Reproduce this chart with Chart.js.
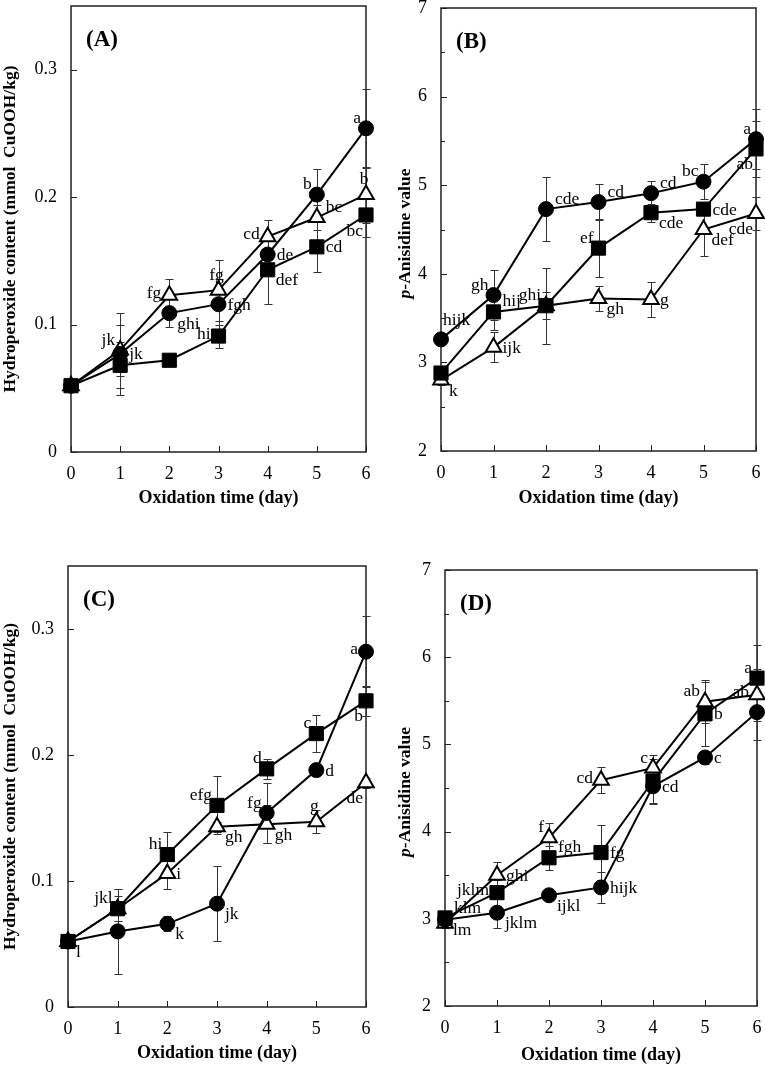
<!DOCTYPE html>
<html>
<head>
<meta charset="utf-8">
<script src="https://cdn.jsdelivr.net/npm/chart.js@4.4.0/dist/chart.umd.min.js"></script>
<style>
  body { margin: 0; background: #fff; width: 765px; height: 1086px; position: relative; overflow: hidden; }
  canvas { position: absolute; }
</style>
</head>
<body>
<canvas id="chartA" width="383" height="560" style="left:0;top:-20px"></canvas>
<canvas id="chartB" width="395" height="560" style="left:383px;top:-20px"></canvas>
<canvas id="chartC" width="383" height="558" style="left:0;top:528px"></canvas>
<canvas id="chartD" width="395" height="558" style="left:383px;top:528px"></canvas>
<script>
var days = [0, 1, 2, 3, 4, 5, 6];

// (A) hydroperoxide
var aCircle = [0.052, 0.077, 0.109, 0.116, 0.155, 0.202, 0.254];
var aCircleSd = [0.002, 0.032, 0.011, 0.020, 0.012, 0.020, 0.031];
var aCircleTags = ['', 'jk', 'ghi', 'fgh', 'de', 'b', 'a'];
var aSquare = [0.052, 0.068, 0.072, 0.091, 0.143, 0.161, 0.186];
var aSquareSd = [0.002, 0.018, 0.003, 0.009, 0.027, 0.020, 0.017];
var aSquareTags = ['', '', '', 'hi', 'def', 'cd', 'bc'];
var aTri = [0.052, 0.080, 0.123, 0.127, 0.169, 0.184, 0.202];
var aTriSd = [0.002, 0.020, 0.013, 0.024, 0.013, 0.010, 0.022];
var aTriTags = ['', 'jk', 'fg', 'fg', 'cd', 'bc', 'b'];

// (B) p-anisidine
var bCircle = [3.26, 3.76, 4.73, 4.81, 4.91, 5.04, 5.52];
var bCircleSd = [0.05, 0.28, 0.36, 0.20, 0.14, 0.20, 0.34];
var bCircleTags = ['hijk', 'gh', 'cde', 'cd', 'cd', 'bc', 'a'];
var bSquare = [2.88, 3.57, 3.64, 4.29, 4.69, 4.73, 5.41];
var bSquareSd = [0.05, 0.20, 0.43, 0.33, 0.10, 0.05, 0.32];
var bSquareTags = ['', 'hij', 'ghi', 'ef', 'cde', 'cde', 'ab'];
var bTri = [2.80, 3.17, 3.64, 3.72, 3.71, 4.50, 4.68];
var bTriSd = [0.05, 0.17, 0.15, 0.14, 0.20, 0.30, 0.19];
var bTriTags = ['k', 'ijk', '', 'gh', 'g', 'def', 'cde'];

// (C) hydroperoxide
var cCircle = [0.052, 0.060, 0.066, 0.082, 0.154, 0.188, 0.282];
var cCircleSd = [0.002, 0.034, 0.006, 0.030, 0.024, 0.004, 0.028];
var cCircleTags = ['l', '', 'k', 'jk', 'fg', 'd', 'a'];
var cSquare = [0.052, 0.078, 0.121, 0.160, 0.189, 0.217, 0.243];
var cSquareSd = [0.002, 0.016, 0.018, 0.023, 0.008, 0.015, 0.012];
var cSquareTags = ['', 'jkl', 'hi', 'efg', 'd', 'c', 'b'];
var cTri = [0.052, 0.078, 0.106, 0.143, 0.145, 0.147, 0.178];
var cTriSd = [0.002, 0.010, 0.012, 0.004, 0.015, 0.009, 0.004];
var cTriTags = ['', '', 'i', 'gh', 'gh', 'g', 'de'];

// (D) p-anisidine
var dCircle = [2.99, 3.07, 3.27, 3.36, 4.52, 4.85, 5.37];
var dCircleSd = [0.05, 0.18, 0.04, 0.18, 0.20, 0.08, 0.32];
var dCircleTags = ['lm', 'jklm', 'ijkl', 'hijk', 'cd', 'c', ''];
var dSquare = [3.01, 3.30, 3.70, 3.76, 4.58, 5.35, 5.76];
var dSquareSd = [0.05, 0.15, 0.14, 0.32, 0.25, 0.37, 0.38];
var dSquareTags = ['klm', 'jklm', 'fgh', 'fg', '', 'b', 'a'];
var dTri = [2.95, 3.50, 3.93, 4.59, 4.73, 5.49, 5.57];
var dTriSd = [0.05, 0.15, 0.17, 0.15, 0.15, 0.25, 0.30];
var dTriTags = ['', 'ghi', 'f', 'cd', 'c', 'ab', 'ab'];

// where each letter sits around its marker
var aCircleAt = ['', 'r', 'dr', 'r', 'r', 'ul', 'ul'];
var aSquareAt = ['', '', '', 'l', 'dr', 'r', 'dl'];
var aTriAt = ['', 'ul', 'l', 'u', 'l', 'ur', 'u'];
var bCircleAt = ['uu', 'ul', 'ur', 'ur', 'ur', 'ul', 'ul'];
var bSquareAt = ['', 'ur', 'ul', 'ul', 'dr', 'r', 'dl'];
var bTriAt = ['dr', 'r', '', 'dr', 'r', 'dr', 'dl'];
var cCircleAt = ['dr', '', 'dr', 'dr', 'ul', 'r', 'l'];
var cSquareAt = ['', 'ul', 'ul', 'ul', 'ul', 'ul', 'dl'];
var cTriAt = ['', '', 'r', 'dr', 'dr', 'u', 'dl'];
var dCircleAt = ['dr', 'dr', 'dr', 'r', 'r', 'r', ''];
var dSquareAt = ['ur', 'l', 'ur', 'r', '', 'r', 'ul'];
var dTriAt = ['', 'r', 'ul', 'l', 'ul', 'ul', 'l'];

var PLACE = {
  r: [9, 1, 'left'], l: [-8, -2, 'right'], ul: [-5, -10, 'right'], ur: [9, -10, 'left'],
  dr: [8, 11, 'left'], dl: [-3, 16, 'right'], u: [-2, -15, 'center'], uu: [2, -19, 'left']
};

var SERIF = '"Liberation Serif", "Times New Roman", serif';
Chart.defaults.font.family = SERIF;
Chart.defaults.color = '#000';

var CIRCLE = { shape: 'circle', r: 7.5, fill: '#000', bw: 1 };
var SQUARE = { shape: 'rect', r: 10, fill: '#000', bw: 1 };
var TRI = { shape: 'triangle', r: 9, fill: '#fff', bw: 2 };

function makeSet(vals, sd, tags, at, st) {
  return {
    data: days.map(function (d, i) { return { x: d, y: vals[i] }; }),
    sd: sd, tags: tags, at: at,
    borderColor: '#000', borderWidth: 2,
    pointStyle: st.shape, pointRadius: st.r,
    pointBackgroundColor: st.fill, pointBorderColor: '#000', pointBorderWidth: st.bw,
    clip: false, tension: 0
  };
}

var decor = {
  id: 'decor',
  beforeDatasetsDraw: function (chart, args, o) {
    var ctx = chart.ctx, a = chart.chartArea, xs = chart.scales.x, ys = chart.scales.y;
    ctx.save();
    // frame
    ctx.strokeStyle = '#222';
    ctx.lineWidth = 1.5;
    ctx.strokeRect(a.left, a.top, a.right - a.left, a.bottom - a.top);
    // inward ticks
    ctx.lineWidth = 1;
    ctx.beginPath();
    ys.ticks.forEach(function (t) {
      var py = Math.round(ys.getPixelForValue(t.value)) + 0.5;
      ctx.moveTo(a.left, py); ctx.lineTo(a.left + 6, py);
    });
    if (o.minor) {
      for (var v = ys.min + o.minor; v < ys.max; v += 2 * o.minor) {
        var my = Math.round(ys.getPixelForValue(v)) + 0.5;
        ctx.moveTo(a.left, my); ctx.lineTo(a.left + 4, my);
      }
    }
    days.forEach(function (d) {
      var px = Math.round(xs.getPixelForValue(d)) + 0.5;
      ctx.moveTo(px, a.bottom); ctx.lineTo(px, a.bottom - 6);
    });
    ctx.stroke();
    // error bars
    ctx.strokeStyle = '#333';
    chart.data.datasets.forEach(function (ds) {
      ds.data.forEach(function (p, i) {
        var s = ds.sd[i];
        if (!s) return;
        var px = Math.round(xs.getPixelForValue(p.x)) + 0.5;
        var y1 = Math.round(ys.getPixelForValue(p.y + s)) + 0.5;
        var y2 = Math.round(ys.getPixelForValue(p.y - s)) + 0.5;
        ctx.beginPath();
        ctx.moveTo(px, y1); ctx.lineTo(px, y2);
        ctx.moveTo(px - 4, y1); ctx.lineTo(px + 4, y1);
        ctx.moveTo(px - 4, y2); ctx.lineTo(px + 4, y2);
        ctx.stroke();
      });
    });
    ctx.restore();
  },
  afterDatasetsDraw: function (chart, args, o) {
    var ctx = chart.ctx, a = chart.chartArea, xs = chart.scales.x, ys = chart.scales.y;
    ctx.save();
    ctx.fillStyle = '#000';
    // significance letters
    ctx.font = '17.5px ' + SERIF;
    ctx.textBaseline = 'middle';
    chart.data.datasets.forEach(function (ds) {
      ds.data.forEach(function (p, i) {
        if (!ds.tags[i]) return;
        var pl = PLACE[ds.at[i]];
        ctx.textAlign = pl[2];
        ctx.fillText(ds.tags[i], xs.getPixelForValue(p.x) + pl[0], ys.getPixelForValue(p.y) + pl[1]);
      });
    });
    // panel tag
    ctx.font = 'bold 23px ' + SERIF;
    ctx.textAlign = 'left';
    ctx.fillText(o.tag, a.left + 15, a.top + 34);
    // y title with italic p
    if (o.italicTitle) {
      var first = o.italicTitle[0], rest = o.italicTitle[1];
      ctx.translate(o.titleX, (a.top + a.bottom) / 2 + 4);
      ctx.rotate(-Math.PI / 2);
      ctx.font = 'italic bold 17.5px ' + SERIF;
      var w1 = ctx.measureText(first).width;
      ctx.font = 'bold 17.5px ' + SERIF;
      var w2 = ctx.measureText(rest).width;
      var x0 = -(w1 + w2) / 2;
      ctx.textAlign = 'left';
      ctx.font = 'italic bold 17.5px ' + SERIF;
      ctx.fillText(first, x0, 0);
      ctx.font = 'bold 17.5px ' + SERIF;
      ctx.fillText(rest, x0 + w1, 0);
    }
    ctx.restore();
  }
};

var PANELS = [
  { id: 'chartA', page: [0, -20, 383, 560], area: [71, 6, 366, 452], xTitleY: 498,
    y: [0, 0.35, 0.1], minor: 0, tag: '(A)',
    title: 'Hydroperoxide content (mmol  CuOOH/kg)',
    sets: [makeSet(aCircle, aCircleSd, aCircleTags, aCircleAt, CIRCLE),
           makeSet(aSquare, aSquareSd, aSquareTags, aSquareAt, SQUARE),
           makeSet(aTri, aTriSd, aTriTags, aTriAt, TRI)] },
  { id: 'chartB', page: [383, -20, 395, 560], area: [441, 8, 756, 451], xTitleY: 498,
    y: [2, 7, 1], minor: 0.5, tag: '(B)', italicTitle: ['p', '-Anisidine value'],
    sets: [makeSet(bCircle, bCircleSd, bCircleTags, bCircleAt, CIRCLE),
           makeSet(bSquare, bSquareSd, bSquareTags, bSquareAt, SQUARE),
           makeSet(bTri, bTriSd, bTriTags, bTriAt, TRI)] },
  { id: 'chartC', page: [0, 528, 383, 558], area: [68, 566, 366, 1007], xTitleY: 1053,
    y: [0, 0.35, 0.1], minor: 0, tag: '(C)',
    title: 'Hydroperoxide content (mmol  CuOOH/kg)',
    sets: [makeSet(cCircle, cCircleSd, cCircleTags, cCircleAt, CIRCLE),
           makeSet(cSquare, cSquareSd, cSquareTags, cSquareAt, SQUARE),
           makeSet(cTri, cTriSd, cTriTags, cTriAt, TRI)] },
  { id: 'chartD', page: [383, 528, 395, 558], area: [445, 570, 757, 1006], xTitleY: 1055,
    y: [2, 7, 1], minor: 0.5, tag: '(D)', italicTitle: ['p', '-Anisidine value'],
    sets: [makeSet(dCircle, dCircleSd, dCircleTags, dCircleAt, CIRCLE),
           makeSet(dSquare, dSquareSd, dSquareTags, dSquareAt, SQUARE),
           makeSet(dTri, dTriSd, dTriTags, dTriAt, TRI)] }
];

PANELS.forEach(function (p) {
  var cx = p.page[0], cy = p.page[1], W = p.page[2], H = p.page[3];
  var L = p.area[0] - cx, T = p.area[1] - cy, R = p.area[2] - cx, B = p.area[3] - cy;
  var scaleBottom = p.xTitleY - cy + 10.8;
  var padB = H - scaleBottom, xH = scaleBottom - B;
  new Chart(document.getElementById(p.id), {
    type: 'line',
    data: { datasets: p.sets },
    options: {
      responsive: false,
      animation: false,
      events: [],
      layout: { padding: { left: 0, top: T, right: W - R, bottom: padB } },
      plugins: {
        legend: { display: false },
        tooltip: { enabled: false },
        decor: { tag: p.tag, minor: p.minor, italicTitle: p.italicTitle, titleX: 405 - cx }
      },
      scales: {
        x: {
          type: 'linear', min: 0, max: 6,
          grid: { display: false, drawTicks: false },
          border: { display: false },
          ticks: { stepSize: 1, padding: 11, font: { size: 18 } },
          title: { display: true, text: 'Oxidation time (day)', padding: 0,
                   font: { size: 18, weight: 'bold' } },
          afterFit: function (s) { s.height = xH; }
        },
        y: {
          min: p.y[0], max: p.y[1],
          grid: { display: false, drawTicks: false },
          border: { display: false },
          ticks: {
            stepSize: p.y[2], includeBounds: false, padding: 14, font: { size: 18 },
            callback: function (v) { return p.y[2] < 1 ? (v === 0 ? '0' : v.toFixed(1)) : String(v); }
          },
          title: { display: !p.italicTitle, text: p.title || '', padding: 0,
                   font: { size: 17.5, weight: 'bold' } },
          afterFit: function (s) { s.width = L; }
        }
      }
    },
    plugins: [decor]
  });
});
</script>
</body>
</html>
